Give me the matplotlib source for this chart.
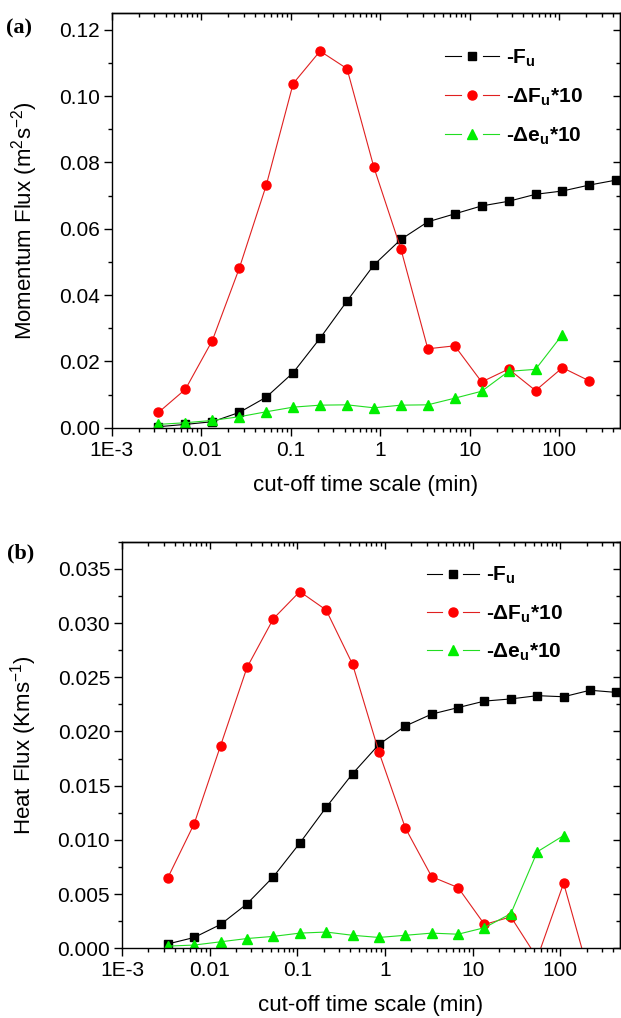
import matplotlib
matplotlib.use("Agg")
import matplotlib.pyplot as plt
from matplotlib.legend_handler import HandlerLine2D
from matplotlib.lines import Line2D
from matplotlib.ticker import FixedLocator, MultipleLocator, FormatStrFormatter, NullFormatter, LogLocator

plt.rcParams['font.family'] = ['Liberation Sans', 'DejaVu Sans']
plt.rcParams['mathtext.fontset'] = 'custom'
plt.rcParams['mathtext.rm'] = 'Liberation Sans'
plt.rcParams['mathtext.it'] = 'Liberation Sans:italic'
plt.rcParams['mathtext.bf'] = 'Liberation Sans:bold'

# ---------------- data ----------------
cutoff_min = [0.00333, 0.00667, 0.01333, 0.02667, 0.05333, 0.1067, 0.2133, 0.4267,
              0.8533, 1.707, 3.413, 6.827, 13.65, 27.31, 54.61, 109.2, 218.5, 436.9]

mom_Fu = [0.0003, 0.0010, 0.0018, 0.0046, 0.0092, 0.0166, 0.0270, 0.0382, 0.0491,
          0.0568, 0.0621, 0.0645, 0.0669, 0.0683, 0.0704, 0.0714, 0.0732, 0.0747]
mom_dFu10 = [0.0046, 0.0116, 0.0263, 0.0481, 0.0731, 0.1038, 0.1136, 0.1083, 0.0785,
             0.0539, 0.0238, 0.0247, 0.0138, 0.0177, 0.0112, 0.0181, 0.0141]
mom_deu10 = [0.0010, 0.0015, 0.0022, 0.0033, 0.0048, 0.0062, 0.0068, 0.0069, 0.0060,
             0.0068, 0.0069, 0.0089, 0.0110, 0.0170, 0.0176, 0.0281]

heat_Fu = [0.0004, 0.0010, 0.0022, 0.0041, 0.0066, 0.0097, 0.0130, 0.0161, 0.0188,
           0.0205, 0.0216, 0.0222, 0.0228, 0.0230, 0.0233, 0.0232, 0.0238, 0.0236]
heat_dFu10 = [0.0065, 0.0115, 0.0187, 0.0259, 0.0304, 0.0329, 0.0312, 0.0262, 0.0181,
              0.0111, 0.0066, 0.0056, 0.0022, 0.0029, -0.0009, 0.0060, -0.0027]
heat_deu10 = [0.0002, 0.0003, 0.0006, 0.0009, 0.0011, 0.0014, 0.0015, 0.0012, 0.0010,
              0.0012, 0.0014, 0.0013, 0.0019, 0.0032, 0.0089, 0.0104]

labels = [r'-$\mathbf{F_u}$', r'-$\mathbf{\Delta F_u}$*10', r'-$\mathbf{\Delta e_u}$*10']
xtick_vals = [1e-3, 1e-2, 1e-1, 1, 10, 100]
xtick_labels = ['1E-3', '0.01', '0.1', '1', '10', '100']

W, H = 621, 1018
fig = plt.figure(figsize=(W / 100, H / 100), dpi=100)

TICK_FS = 15
LABEL_FS = 16
LEG_FS = 15


def px_axes(left, top, right, bottom):
    return fig.add_axes([left / W, 1 - bottom / H, (right - left) / W, (bottom - top) / H])


class GapHandler(HandlerLine2D):
    def create_artists(self, legend, orig_handle, xdescent, ydescent, width, height,
                       fontsize, trans):
        y = (height - ydescent) / 2
        x0 = -xdescent
        x1 = x0 + width
        xm = 0.5 * (x0 + x1)
        gap = 0.2 * width
        arts = []
        for a, b in ((x0, xm - gap), (xm + gap, x1)):
            ln = Line2D([a, b], [y, y])
            self.update_prop(ln, orig_handle, legend)
            ln.set_marker('None')
            ln.set_transform(trans)
            arts.append(ln)
        mk = Line2D([xm], [y])
        self.update_prop(mk, orig_handle, legend)
        mk.set_linestyle('None')
        mk.set_transform(trans)
        arts.append(mk)
        return arts


def style_axes(ax, ymax, ymajor, yfmt, ylabel):
    ax.set_xscale('log')
    ax.set_xlim(1e-3, 480)
    ax.set_ylim(0, ymax)
    ax.xaxis.set_major_locator(FixedLocator(xtick_vals))
    ax.set_xticklabels(xtick_labels)
    ax.xaxis.set_minor_locator(LogLocator(base=10, subs=range(2, 10), numticks=20))
    ax.xaxis.set_minor_formatter(NullFormatter())
    ax.yaxis.set_major_locator(MultipleLocator(ymajor))
    ax.yaxis.set_minor_locator(MultipleLocator(ymajor / 2))
    ax.yaxis.set_major_formatter(FormatStrFormatter(yfmt))
    for s in ax.spines.values():
        s.set_linewidth(1.0)
    ax.tick_params(which='both', direction='out', labelsize=TICK_FS, width=1.0)
    ax.tick_params(which='major', length=5.5)
    ax.tick_params(which='minor', length=3)
    ax.tick_params(axis='x', which='major', pad=4)
    ax.tick_params(axis='y', which='major', pad=3)
    ax.set_xlabel('cut-off time scale (min)', fontsize=LABEL_FS)
    ax.set_ylabel(ylabel, fontsize=LABEL_FS)
    # mirrored inward ticks on top and right
    top = ax.secondary_xaxis('top', functions=(lambda v: v, lambda v: v))
    top.xaxis.set_major_locator(FixedLocator(xtick_vals))
    top.xaxis.set_minor_locator(LogLocator(base=10, subs=range(2, 10), numticks=20))
    top.xaxis.set_major_formatter(NullFormatter())
    top.xaxis.set_minor_formatter(NullFormatter())
    top.tick_params(which='both', direction='in', width=1.0)
    top.tick_params(which='major', length=5)
    top.tick_params(which='minor', length=3)
    right = ax.secondary_yaxis('right', functions=(lambda v: v, lambda v: v))
    right.yaxis.set_major_locator(MultipleLocator(ymajor))
    right.yaxis.set_minor_locator(MultipleLocator(ymajor / 2))
    right.yaxis.set_major_formatter(NullFormatter())
    right.tick_params(which='both', direction='in', width=1.0)
    right.tick_params(which='major', length=5)
    right.tick_params(which='minor', length=3)
    for sax in (top, right):
        for s in sax.spines.values():
            s.set_linewidth(1.0)


def plot_series(ax, Fu, dF, de):
    h1, = ax.plot(cutoff_min[:len(Fu)], Fu, color='black', lw=0.8, marker='s', ms=5.5,
                  mec='black', mfc='black')
    h2, = ax.plot(cutoff_min[:len(dF)], dF, color='#e02020', lw=0.8, marker='o', ms=6.5,
                  mec='#ff0000', mfc='#ff0000')
    h3, = ax.plot(cutoff_min[:len(de)], de, color='#22dd22', lw=0.8, marker='^', ms=7,
                  mec='#00ee00', mfc='#00ee00')
    return [h1, h2, h3]


# ---------- panel (a) ----------
ax1 = px_axes(111.7, 13.3, 620, 427.7)
hs = plot_series(ax1, mom_Fu, mom_dFu10, mom_deu10)
style_axes(ax1, 0.125, 0.02, '%.2f', r'Momentum Flux (m$^2$s$^{-2}$)')
ax1.yaxis.set_label_coords(-0.141, 0.5)
ax1.xaxis.set_label_coords(0.5, -0.115)
ax1.legend(hs, labels, loc='upper left', bbox_to_anchor=(0.656, 0.918), frameon=False,
           prop={'weight': 'bold', 'size': LEG_FS},
           handlelength=2.6, handletextpad=0.3, labelspacing=0.85,
           borderpad=0, borderaxespad=0,
           handler_map={Line2D: GapHandler()})

# ---------- panel (b) ----------
ax2 = px_axes(122, 541.7, 620, 948.3)
hs2 = plot_series(ax2, heat_Fu, heat_dFu10, heat_deu10)
style_axes(ax2, 0.0375, 0.005, '%.3f', r'Heat Flux (Kms$^{-1}$)')
ax2.yaxis.set_label_coords(-0.167, 0.5)
ax2.xaxis.set_label_coords(0.5, -0.116)
ax2.legend(hs2, labels, loc='upper left', bbox_to_anchor=(0.612, 0.943), frameon=False,
           prop={'weight': 'bold', 'size': LEG_FS},
           handlelength=2.5, handletextpad=0.33, labelspacing=0.82,
           borderpad=0, borderaxespad=0,
           handler_map={Line2D: GapHandler()})

fig.text(6 / W, 1 - 28 / H, '(a)', family='Liberation Serif', weight='bold', fontsize=16,
         va='center', ha='left')
fig.text(7 / W, 1 - 553 / H, '(b)', family='Liberation Serif', weight='bold', fontsize=16,
         va='center', ha='left')

fig.savefig('out.png', dpi=100)
